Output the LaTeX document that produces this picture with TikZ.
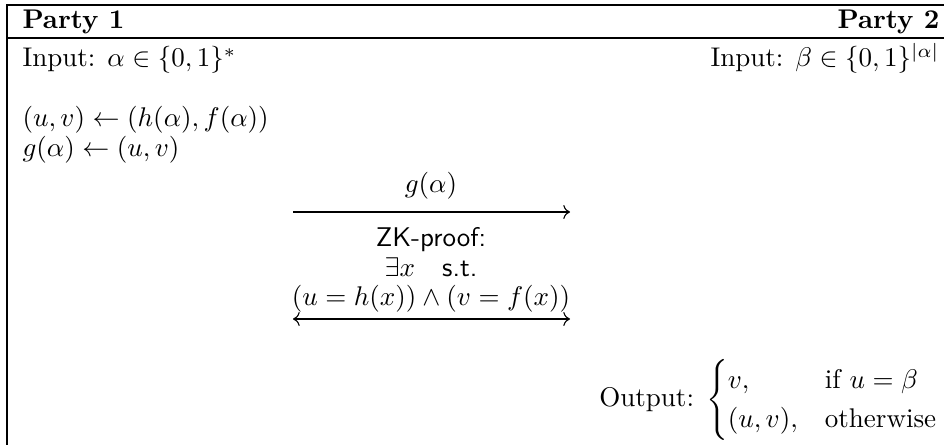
\documentclass[tikz,border=0pt]{standalone}
\usepackage{amsmath,amssymb}
\usetikzlibrary{arrows.meta,positioning}
\tikzset{msg/.style={->,thin},
         txt/.style={inner sep=0}}

\begin{document}
\begin{tikzpicture}[x=0.37pt,y=-0.37pt]
        % Bounding box (pixel grid of the reference)
        \useasboundingbox (0,0) rectangle (944,445);
        % Frame lines
        \coordinate (TR) at (944,5);
        \coordinate (TL) at (7,5);
        \coordinate (BL) at (7,445);
        \draw[thin] (TR) -- (TL) -- (BL);
        \draw[thin] (7,38) -- (944,38);
        % Header
        \node[txt,anchor=base west] (p1) at (22,29) {\textbf{Party 1}};
        \node[txt,anchor=base east] (p2) at (940,29) {\textbf{Party 2}};
        % Inputs
        \node[txt,anchor=base west] (in1) at (22,67) {Input: $\alpha\in\{0,1\}^*$};
        \node[txt,anchor=base east] (in2) at (940,67) {Input: $\beta\in\{0,1\}^{|\alpha|}$};
        % Party 1 computations
        \node[txt,anchor=base west] (c1) at (22,127) {$(u,v)\leftarrow(h(\alpha),f(\alpha))$};
        \node[txt,anchor=base west] (c2) at (22,157) {$g(\alpha)\leftarrow(u,v)$};
        % First message
        \coordinate (m1s) at (293,212);
        \coordinate (m1e) at (570,212);
        \draw[msg] (m1s) -- (m1e);
        \node[txt,anchor=base] (m1) at (431,193) {$g(\alpha)$};
        % ZK proof
        \node[txt,anchor=base] (zk1) at (431,247) {\textsf{ZK-proof:}};
        \node[txt,anchor=base] (zk2) at (431,277) {$\exists x\quad$\textsf{s.t.}};
        \node[txt,anchor=base] (zk3) at (431,306) {$(u=h(x))\wedge(v=f(x))$};
        \coordinate (m2s) at (293,319);
        \coordinate (m2e) at (570,319);
        \draw[msg,<->] (m2s) -- (m2e);
        % Output
        \node[txt,anchor=east] (out) at (940,400) {Output: $\begin{cases} v, & \text{if } u=\beta\\ (u,v), & \text{otherwise}\end{cases}$};
\end{tikzpicture}
\end{document}
